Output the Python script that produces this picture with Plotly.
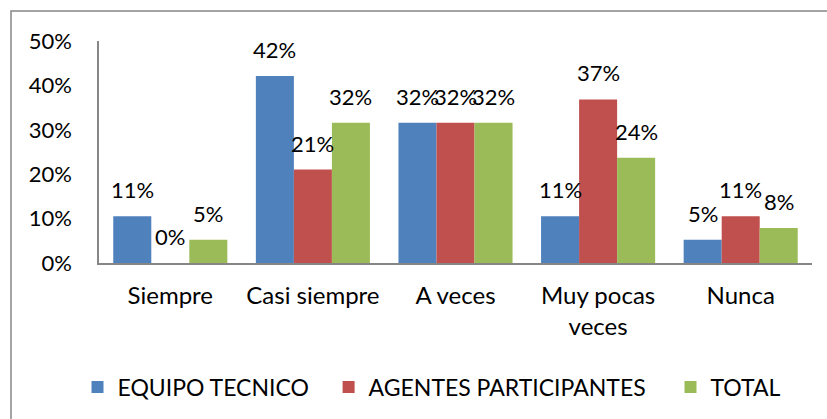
import plotly.graph_objects as go

categories = ["Siempre", "Casi siempre", "A veces", "Muy pocas<br>veces", "Nunca"]
equipo_tecnico = [10.53, 42.11, 31.58, 10.53, 5.26]
agentes_participantes = [0.0, 21.05, 31.58, 36.84, 10.53]
total = [5.26, 31.58, 31.58, 23.68, 7.89]
series_names = ["EQUIPO TECNICO", "AGENTES PARTICIPANTES", "TOTAL"]
colors = ["#4F81BD", "#C0504D", "#9BBB59"]
y_ticks = [0, 10, 20, 30, 40, 50]

FONT = "Lato"
W, H = 827, 419
ML, MR, MT, MB = 99, 15, 41, 156
plot_w = W - ML - MR
plot_h = H - MT - MB

def px_x(p):
    return (p - ML) / plot_w

def px_y(p):
    return (H - MB - p) / plot_h

legend_ids = ["legend", "legend2", "legend3"]
legend_text_px = [117.5, 368.6, 710.5]

fig = go.Figure()
series = [equipo_tecnico, agentes_participantes, total]
for name, vals, col, lg in zip(series_names, series, colors, legend_ids):
    fig.add_trace(go.Bar(name=name, x=categories, y=vals, marker_color=col,
                         marker_line_width=0, legend=lg))

# data labels above bars
cat_w = plot_w / len(categories)
bar_w = cat_w * 0.8 / 3
for i, vals in enumerate(series):
    off = (i - 1) * bar_w
    for c, v in zip(categories, vals):
        fig.add_annotation(x=c, y=v, xref="x", yref="y", text=f"{v:.0f}%",
                           showarrow=False, xshift=off, yshift=11, yanchor="bottom",
                           font=dict(family=FONT, size=22, color="#000000"))

# outer border
fig.add_shape(type="rect", xref="paper", yref="paper",
              x0=px_x(11), x1=1.2, y0=-1.0, y1=px_y(11),
              line=dict(color="#868686", width=1.5), layer="below")

legend_common = dict(orientation="h", xanchor="left", yanchor="middle", y=px_y(387),
                     font=dict(family=FONT, size=23, color="#000000"),
                     bgcolor="rgba(0,0,0,0)", borderwidth=0)

fig.update_layout(
    width=W, height=H,
    margin=dict(l=ML, r=MR, t=MT, b=MB, autoexpand=False),
    paper_bgcolor="white", plot_bgcolor="white",
    barmode="group", bargap=0.2, bargroupgap=0,
    font=dict(family=FONT, size=22, color="#000000"),
    showlegend=True,
    legend=dict(x=px_x(legend_text_px[0] - 40), **legend_common),
    legend2=dict(x=px_x(legend_text_px[1] - 40), **legend_common),
    legend3=dict(x=px_x(legend_text_px[2] - 40), **legend_common),
    xaxis=dict(showline=True, linecolor="#868686", linewidth=1.5, ticks="",
               tickfont=dict(family=FONT, size=24), ticklabelstandoff=10,
               automargin=False),
    yaxis=dict(range=[0, 50], tickvals=y_ticks, ticktext=[f"{t}%" for t in y_ticks],
               showgrid=False, zeroline=False, showline=True, linecolor="#868686",
               linewidth=1.5, ticks="", ticklabelstandoff=21, automargin=False,
               tickfont=dict(family=FONT, size=22)),
)
fig.write_html("out.html", config={"displayModeBar": False},
               post_script="document.body.style.margin='0';document.body.style.overflow='hidden';")
